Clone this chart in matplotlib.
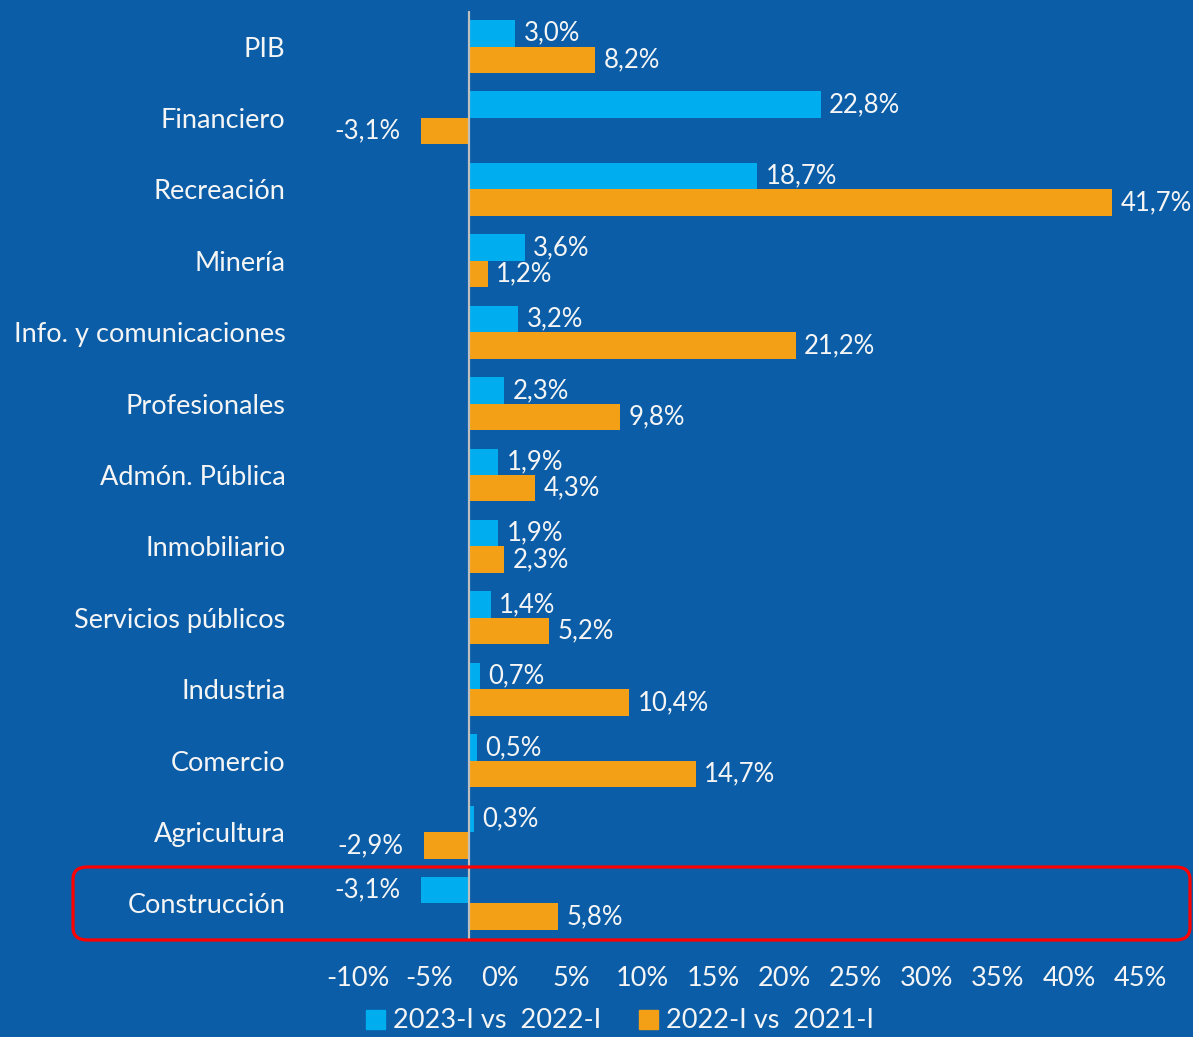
import matplotlib
matplotlib.use('Agg')
import matplotlib.pyplot as plt
from matplotlib.patches import Patch, FancyBboxPatch

plt.rcParams['font.family'] = ['Lato', 'DejaVu Sans']

categories = ['PIB', 'Financiero', 'Recreación', 'Minería', 'Info. y comunicaciones',
              'Profesionales', 'Admón. Pública', 'Inmobiliario', 'Servicios públicos',
              'Industria', 'Comercio', 'Agricultura', 'Construcción']
s2023 = [3.0, 22.8, 18.7, 3.6, 3.2, 2.3, 1.9, 1.9, 1.4, 0.7, 0.5, 0.3, -3.1]
s2022 = [8.2, -3.1, 41.7, 1.2, 21.2, 9.8, 4.3, 2.3, 5.2, 10.4, 14.7, -2.9, 5.8]
tick_vals = [-10, -5, 0, 5, 10, 15, 20, 25, 30, 35, 40, 45]
legend_labels = ['2023-I vs  2022-I', '2022-I vs  2021-I']

bg = '#0A5DA6'
c_blue = '#00AEEF'
c_orange = '#F4A017'
txt = '#F5F5F5'
fs = 19.5
fs_val = 18.5

W, H = 1193, 1037
fig = plt.figure(figsize=(W / 100, H / 100), dpi=100, facecolor=bg)

# axes placed so the zero line sits at x=469px
left_px, right_px = 299.4, 1193.7
top_px, bot_px = 10.8, 939.2
ax = fig.add_axes([left_px / W, 1 - bot_px / H, (right_px - left_px) / W, (bot_px - top_px) / H])
ax.set_facecolor(bg)

n = len(categories)
y = list(range(n))
h = 0.371
y_blue = [i - h / 2 for i in y]
y_orange = [i + h / 2 for i in y]
ax.barh(y_blue, s2023, height=h, color=c_blue, zorder=2)
ax.barh(y_orange, s2022, height=h, color=c_orange, zorder=2)
ax.axvline(0, color='#BFBFBF', lw=1.6, zorder=3)

ax.set_xlim(-11, 47)
ax.set_ylim(n - 0.5, -0.5)


def fmt(v):
    return f'{v:.1f}%'.replace('.', ',')


for ys, vals in ((y_blue, s2023), (y_orange, s2022)):
    for yy, v in zip(ys, vals):
        if v >= 0:
            ax.annotate(fmt(v), (v, yy), xytext=(6, 0), textcoords='offset points',
                        ha='left', va='center', color=txt, fontsize=fs_val)
        else:
            ax.annotate(fmt(v), (v, yy), xytext=(-15, 0), textcoords='offset points',
                        ha='right', va='center', color=txt, fontsize=fs_val)

ax.set_yticks(y)
ax.set_yticklabels(categories, color=txt, fontsize=fs)
ax.tick_params(axis='y', length=0, pad=10)
ax.set_xticks([])
for s in ax.spines.values():
    s.set_visible(False)

# separate axis for the printed percentage scale
ax2 = ax.twiny()
ax2.set_xlim(-14.12, 48.77)
ax2.xaxis.set_ticks_position('bottom')
ax2.set_xticks(tick_vals)
ax2.set_xticklabels([f'{t}%' for t in tick_vals], color=txt, fontsize=fs)
ax2.tick_params(axis='x', length=0, pad=19)
for s in ax2.spines.values():
    s.set_visible(False)

handles = [Patch(color=c_blue), Patch(color=c_orange)]
fig.legend(handles, legend_labels, loc='center', bbox_to_anchor=(620 / W, 1 - 1021 / H),
           ncol=2, frameon=False, fontsize=fs, labelcolor=txt, handlelength=0.7,
           handleheight=0.7, handletextpad=0.3, columnspacing=1.4)

box = FancyBboxPatch((73 / W, 1 - 940 / H), (1117 / W), (73 / H),
                     boxstyle='round,pad=0,rounding_size=0.012', transform=fig.transFigure,
                     fill=False, edgecolor='#FF0000', lw=2.3, zorder=5)
fig.patches.append(box)

fig.savefig('out.png', dpi=100, facecolor=bg)
